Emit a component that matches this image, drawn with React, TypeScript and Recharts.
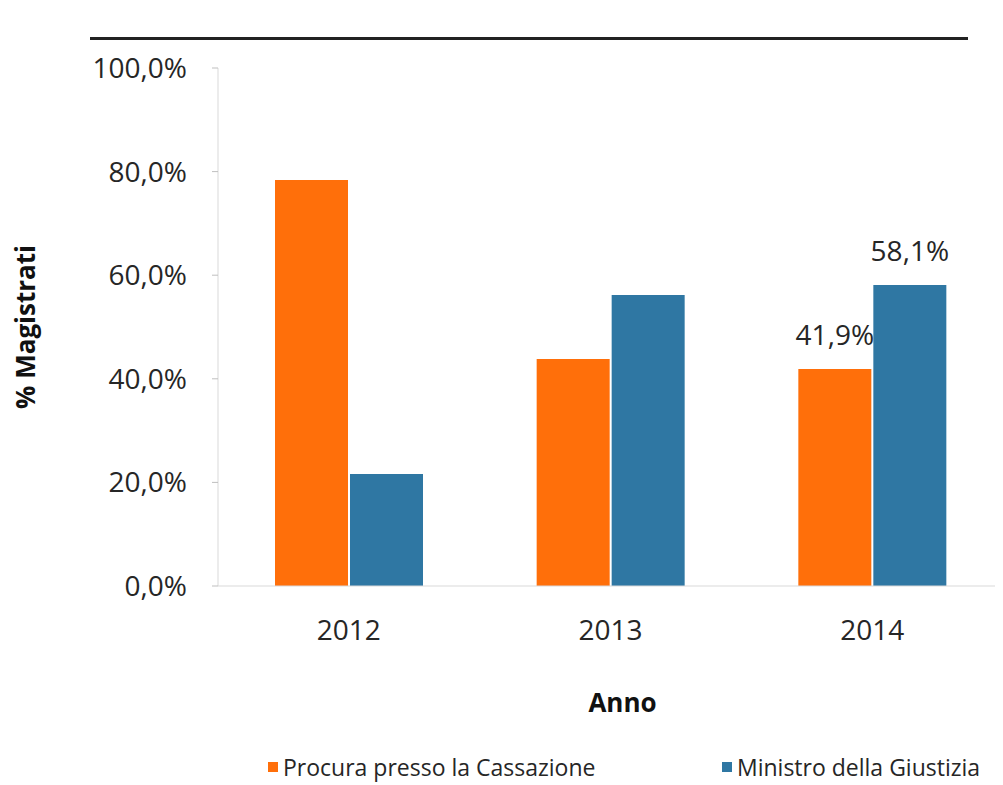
import { BarChart, Bar, XAxis, YAxis, Legend, LabelList } from "recharts";

const anni = ["2012", "2013", "2014"];
const procura = [78.4, 43.8, 41.9];
const ministro = [21.6, 56.2, 58.1];
// solo il 2014 ha le etichette sui valori
const procuraEtichette = ["", "", "41,9%"];
const ministroEtichette = ["", "", "58,1%"];
const yTicks = [0, 20, 40, 60, 80, 100];
const serie = ["Procura presso la Cassazione", "Ministro della Giustizia"];

const ARANCIO = "#FF6F0A";
const BLU = "#2F77A3";
const TESTO = "#262626";
const FONT = "'Open Sans', sans-serif";

const data = anni.map((anno, i) => ({
  anno,
  procura: procura[i],
  ministro: ministro[i],
  procuraLabel: procuraEtichette[i],
  ministroLabel: ministroEtichette[i],
}));

const fmtPerc = (v: number) => v.toFixed(1).replace(".", ",") + "%";

function LegendaPersonalizzata({ payload }: any) {
  // ordine delle serie come nel grafico originale
  const voci = [...(payload || [])].sort((a: any, b: any) => serie.indexOf(a.value) - serie.indexOf(b.value));
  return (
    <div style={{ display: "flex", fontFamily: FONT, fontSize: 23, lineHeight: "30px", color: TESTO, whiteSpace: "nowrap" }}>
      {voci.map((item: any, i: number) => (
        <div key={item.value} style={{ display: "flex", alignItems: "center", width: i === 0 ? 454 : "auto", flexShrink: 0 }}>
          <span style={{ width: 10, height: 10, background: item.color, marginRight: 5, display: "inline-block" }} />
          <span>{item.value}</span>
        </div>
      ))}
    </div>
  );
}

export default function App() {
  return (
    <div style={{ position: "relative", width: 995, height: 777, fontFamily: FONT }}>
      <div style={{ position: "absolute", left: 82, top: 29, width: 878, height: 3, background: "#222" }} />
      <BarChart
        width={995}
        height={777}
        data={data}
        margin={{ top: 60, right: 0, left: 0, bottom: 0 }}
        barCategoryGap={57}
        barGap={2}
      >
        <XAxis
          dataKey="anno"
          height={199}
          axisLine={{ stroke: "#d9d9d9" }}
          tickLine={false}
          tickSize={0}
          tickMargin={34}
          tick={{ fontSize: 28, fill: TESTO, fontFamily: FONT }}
          label={{
            content: ({ viewBox }: any) => (
              <text
                x={viewBox.x + viewBox.width / 2 + 12}
                y={viewBox.y + 126}
                textAnchor="middle"
                fontSize={26}
                fontWeight={700}
                fontFamily={FONT}
                fill="#111"
              >
                Anno
              </text>
            ),
          }}
        />
        <YAxis
          width={210}
          domain={[0, 100]}
          ticks={yTicks}
          tickFormatter={fmtPerc}
          axisLine={{ stroke: "#d9d9d9" }}
          tickLine={{ stroke: "#bfbfbf" }}
          tickSize={6}
          tickMargin={25}
          tick={{ fontSize: 28, fill: TESTO, fontFamily: FONT }}
          label={{
            content: ({ viewBox }: any) => {
              const cx = 27;
              const cy = viewBox.y + viewBox.height / 2;
              return (
                <text
                  x={cx}
                  y={cy}
                  transform={`rotate(-90, ${cx}, ${cy})`}
                  textAnchor="middle"
                  fontSize={26}
                  fontWeight={700}
                  fontFamily={FONT}
                  fill="#111"
                >
                  % Magistrati
                </text>
              );
            },
          }}
        />
        <Legend
          layout="horizontal"
          verticalAlign="middle"
          align="center"
          wrapperStyle={{ top: 744, left: 260, width: 735, height: 30 }}
          content={<LegendaPersonalizzata />}
        />
        <Bar dataKey="procura" name={serie[0]} fill={ARANCIO} isAnimationActive={false}>
          <LabelList dataKey="procuraLabel" position="top" offset={24} fontSize={28} fill={TESTO} fontFamily={FONT} />
        </Bar>
        <Bar dataKey="ministro" name={serie[1]} fill={BLU} isAnimationActive={false}>
          <LabelList dataKey="ministroLabel" position="top" offset={24} fontSize={28} fill={TESTO} fontFamily={FONT} />
        </Bar>
      </BarChart>
    </div>
  );
}
